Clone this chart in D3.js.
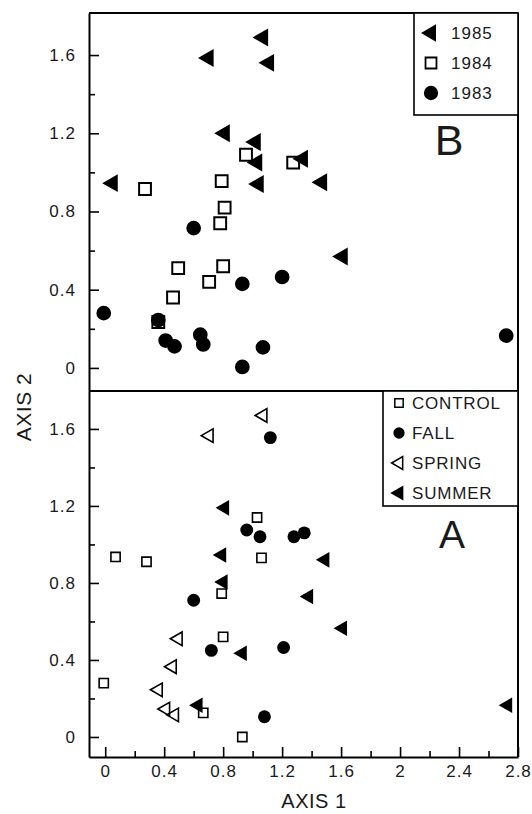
<!DOCTYPE html>
<html>
<head>
<meta charset="utf-8">
<script src="https://cdn.jsdelivr.net/npm/d3@7"></script>
<style>
  body { margin: 0; background: #fff; }
  svg text { font-family: "Liberation Sans", Arial, sans-serif; fill: #1a1a1a; }
</style>
</head>
<body>
<svg id="graphic"></svg>
<script>
  // ordination scores [axis 1, axis 2]
  // panel B: by year
  var b1985 = [[1.07,1.69],[0.70,1.585],[1.11,1.56],[0.81,1.20],[1.02,1.155],[1.03,1.05],[1.34,1.07],[1.04,0.94],[0.05,0.945],[1.47,0.95],[1.61,0.57]];
  var b1984 = [[0.27,0.915],[0.955,1.09],[0.79,0.955],[1.275,1.05],[0.81,0.82],[0.78,0.74],[0.495,0.51],[0.80,0.52],[0.705,0.44],[0.46,0.36],[0.36,0.235]];
  var b1983 = [[0.60,0.715],[0.93,0.43],[1.20,0.465],[-0.01,0.28],[0.36,0.245],[0.41,0.14],[0.47,0.11],[0.645,0.17],[0.665,0.12],[1.07,0.105],[0.93,0.005],[2.72,0.165]];

  // panel A: by season
  var aControl = [[0.07,0.935],[0.28,0.91],[1.03,1.14],[1.06,0.93],[0.79,0.745],[0.80,0.52],[-0.01,0.28],[0.665,0.125],[0.93,0.0]];
  var aFall = [[1.12,1.555],[0.96,1.075],[1.05,1.04],[1.28,1.04],[1.35,1.06],[0.60,0.71],[0.72,0.45],[1.21,0.465],[1.08,0.105]];
  var aSpring = [[0.705,1.565],[1.07,1.67],[0.495,0.51],[0.455,0.365],[0.36,0.245],[0.41,0.145],[0.47,0.115]];
  var aSummer = [[0.81,1.19],[0.79,0.945],[0.80,0.805],[1.49,0.92],[1.38,0.73],[1.61,0.565],[2.73,0.165],[0.93,0.435],[0.63,0.165]];

  var xMajor = [0, 0.4, 0.8, 1.2, 1.6, 2, 2.4, 2.8];
  var xMinor = [0.2, 0.6, 1.0, 1.4, 1.8, 2.2, 2.6];
  var yMajor = [0, 0.4, 0.8, 1.2, 1.6];
  var yMinor = [0.2, 0.6, 1.0, 1.4];

  var yearLabels = ["1985", "1984", "1983"];
  var seasonLabels = ["CONTROL", "FALL", "SPRING", "SUMMER"];

  var svgWidth = 532, svgHeight = 814;
  var left = 89, right = 518, plotTop = 13, mid = 391, bottom = 757;

  var svg = d3.select('#graphic')
  .attr("width", svgWidth)
  .attr("height", svgHeight);

  var x = d3.scaleLinear().domain([-0.11, 2.8]).range([left, right]);
  var yB = d3.scaleLinear().domain([-0.118, 1.815]).range([mid, plotTop]);
  var yA = d3.scaleLinear().domain([-0.104, 1.797]).range([bottom, mid]);

  function styleAxis(g) {
    g.selectAll(".domain").attr("stroke-width", 2);
    g.selectAll(".tick line").attr("stroke-width", 1.6);
    g.selectAll("text").style("font-size", "17px").style("letter-spacing", "1px");
  }

  function yAxis(scale) {
    svg.append("g")
    .attr("transform", "translate(" + left + ",0)")
    .call(d3.axisLeft(scale).tickValues(yMinor).tickSizeInner(-6).tickSizeOuter(0).tickFormat(""))
    .call(function(g) { g.select(".domain").remove(); })
    .call(styleAxis);
    svg.append("g")
    .attr("transform", "translate(" + left + ",0)")
    .call(d3.axisLeft(scale).tickValues(yMajor).tickSizeInner(-10).tickSizeOuter(0).tickPadding(13).tickFormat(function(d) { return d; }))
    .call(styleAxis);
  }
  yAxis(yB);
  yAxis(yA);

  // x axis only under panel A
  svg.append("g")
  .attr("transform", "translate(0," + bottom + ")")
  .call(d3.axisBottom(x).tickValues(xMinor).tickSizeInner(-6).tickSizeOuter(0).tickFormat(""))
  .call(function(g) { g.select(".domain").remove(); })
  .call(styleAxis);
  svg.append("g")
  .attr("transform", "translate(0," + bottom + ")")
  .call(d3.axisBottom(x).tickValues(xMajor).tickSizeInner(-10).tickSizeOuter(0).tickPadding(8).tickFormat(function(d) { return d; }))
  .call(styleAxis);

  // frame lines
  var frame = [[left, plotTop, right, plotTop], [right, plotTop, right, bottom], [left, mid, right, mid]];
  svg.selectAll("line.frame")
  .data(frame)
  .enter()
  .append("line")
  .attr("class", "frame")
  .attr("x1", function(d) { return d[0]; })
  .attr("y1", function(d) { return d[1]; })
  .attr("x2", function(d) { return d[2]; })
  .attr("y2", function(d) { return d[3]; })
  .attr("stroke", "#000")
  .attr("stroke-width", 2);

  var symbols = {
    tri: { type: d3.symbolTriangle, fill: "#000", rot: -90 },
    triOpen: { type: d3.symbolTriangle, fill: "none", rot: -90 },
    square: { type: d3.symbolSquare, fill: "none", rot: 0 },
    circle: { type: d3.symbolCircle, fill: "#000", rot: 0 }
  };

  function marker(g, cx, cy, kind, size, sw) {
    var s = symbols[kind];
    g.append("path")
    .attr("d", d3.symbol().type(s.type).size(size)())
    .attr("transform", "translate(" + cx + "," + cy + ") rotate(" + s.rot + ")")
    .attr("fill", s.fill)
    .attr("stroke", "#000")
    .attr("stroke-width", sw)
    .attr("stroke-linejoin", "miter");
  }

  function series(pts, yScale, kind, size, sw) {
    var g = svg.append("g");
    pts.forEach(function(d) { marker(g, x(d[0]), yScale(d[1]), kind, size, sw); });
  }

  // panel B
  series(b1983, yB, "circle", 170, 0);
  series(b1984, yB, "square", 140, 2);
  series(b1985, yB, "tri", 140, 0);

  // panel A
  series(aFall, yA, "circle", 130, 0);
  series(aControl, yA, "square", 85, 1.6);
  series(aSpring, yA, "triOpen", 80, 1.6);
  series(aSummer, yA, "tri", 105, 0);

  // legend B
  var legB = svg.append("g");
  legB.append("rect")
  .attr("x", 414).attr("y", plotTop).attr("width", right - 414).attr("height", 102)
  .attr("fill", "#fff").attr("stroke", "#000").attr("stroke-width", 1.6);
  var legBKinds = [["tri", 130, 0], ["square", 120, 1.8], ["circle", 160, 0]];
  yearLabels.forEach(function(t, i) {
    var cy = 33 + i * 30;
    marker(legB, 431, cy, legBKinds[i][0], legBKinds[i][1], legBKinds[i][2]);
    legB.append("text").attr("x", 451).attr("y", cy).attr("dy", "0.36em")
    .style("font-size", "17px").style("letter-spacing", "1px").text(t);
  });

  // legend A
  var legA = svg.append("g");
  legA.append("rect")
  .attr("x", 383).attr("y", mid).attr("width", right - 383).attr("height", 115)
  .attr("fill", "#fff").attr("stroke", "#000").attr("stroke-width", 1.6);
  var legAKinds = [["square", 70, 1.5], ["circle", 100, 0], ["triOpen", 70, 1.5], ["tri", 100, 0]];
  seasonLabels.forEach(function(t, i) {
    var cy = 403 + i * 30;
    marker(legA, 399, cy, legAKinds[i][0], legAKinds[i][1], legAKinds[i][2]);
    legA.append("text").attr("x", 412).attr("y", cy).attr("dy", "0.36em")
    .style("font-size", "17px").style("letter-spacing", "0.8px").text(t);
  });

  // panel letters
  svg.append("text").attr("x", 449).attr("y", 155).attr("text-anchor", "middle")
  .style("font-size", "43px").text("B");
  svg.append("text").attr("x", 452).attr("y", 548).attr("text-anchor", "middle")
  .style("font-size", "39px").text("A");

  // axis titles
  svg.append("text").attr("x", 314).attr("y", 808).attr("text-anchor", "middle")
  .style("font-size", "20px").style("letter-spacing", "0.5px").text("AXIS 1");
  svg.append("text")
  .attr("transform", "translate(31,407) rotate(-90)")
  .attr("text-anchor", "middle")
  .style("font-size", "21px").style("letter-spacing", "0.5px").text("AXIS 2");
</script>
</body>
</html>
